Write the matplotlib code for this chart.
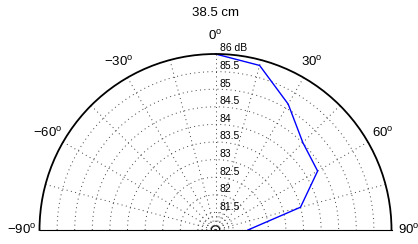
import numpy as np
import matplotlib.pyplot as plt
from matplotlib.transforms import offset_copy

# measured level vs angle
angles_deg = [0, 15, 30, 45, 60, 75, 90]
level_db = [86.0, 85.84, 85.13, 84.51, 84.35, 83.50, 81.92]

# grid
ring_db = [81.5, 82, 82.5, 83, 83.5, 84, 84.5, 85, 85.5, 86]
ring_labels = ['81.5', '82', '82.5', '83', '83.5', '84', '84.5', '85', '85.5', '86 dB']
center_rings = [81.25, 81.38]
spoke_deg = np.arange(-90, 91, 15)
angle_ticks = [-90, -60, -30, 0, 30, 60, 90]
r_min, r_max = 81, 86

plt.rcParams['font.family'] = ['Liberation Sans', 'DejaVu Sans']
plt.rcParams['mathtext.fontset'] = 'custom'
plt.rcParams['mathtext.rm'] = 'Liberation Sans'

fig = plt.figure(figsize=(4.18, 2.44), dpi=100)
# square box; the half disc sits in its middle
ax = fig.add_axes([39.5 / 418, -74 / 244, 352 / 418, 352 / 244], projection='polar')
ax.set_theta_zero_location('N')
ax.set_theta_direction(-1)
ax.set_thetamin(-90)
ax.set_thetamax(90)
ax.set_rlim(r_min, r_max)
ax.grid(False)
ax.set_xticks([])
ax.set_yticks([])
for s in ['start', 'end', 'inner']:
    ax.spines[s].set_visible(False)
ax.spines['polar'].set_linewidth(1.3)

dot = (0, (1, 3.5))
th = np.linspace(-np.pi / 2, np.pi / 2, 300)
for r in ring_db[:-1] + center_rings:
    ax.plot(th, np.full_like(th, r), linestyle=dot, color='0.25', lw=0.7)
ax.plot(th, np.full_like(th, 81.12), '-', color='k', lw=0.8)
for a in spoke_deg:
    ax.plot([np.radians(a)] * 2, [r_min, r_max], linestyle=dot, color='0.25', lw=0.7)

# data
ax.plot(np.radians(angles_deg), level_db, color='#0000ff', lw=1.0, clip_on=False)

# radial labels
trans = offset_copy(ax.transData, fig=fig, x=4, y=5.5, units='dots')
for r, lab in zip(ring_db, ring_labels):
    ax.text(0, r, lab, transform=trans, ha='left', va='center', fontsize=7.5)

# angle labels
for a in angle_ticks:
    s = (str(a) if a >= 0 else '\u2212' + str(-a)) + r'$^{\rm o}$'
    ax.text(np.radians(a), 86.5, s, ha='center', va='center', fontsize=9.5, clip_on=False)

fig.text(0.515, 1 - 13 / 244, '38.5 cm', ha='center', va='center', fontsize=9.5)

fig.savefig('out.png', dpi=100)
